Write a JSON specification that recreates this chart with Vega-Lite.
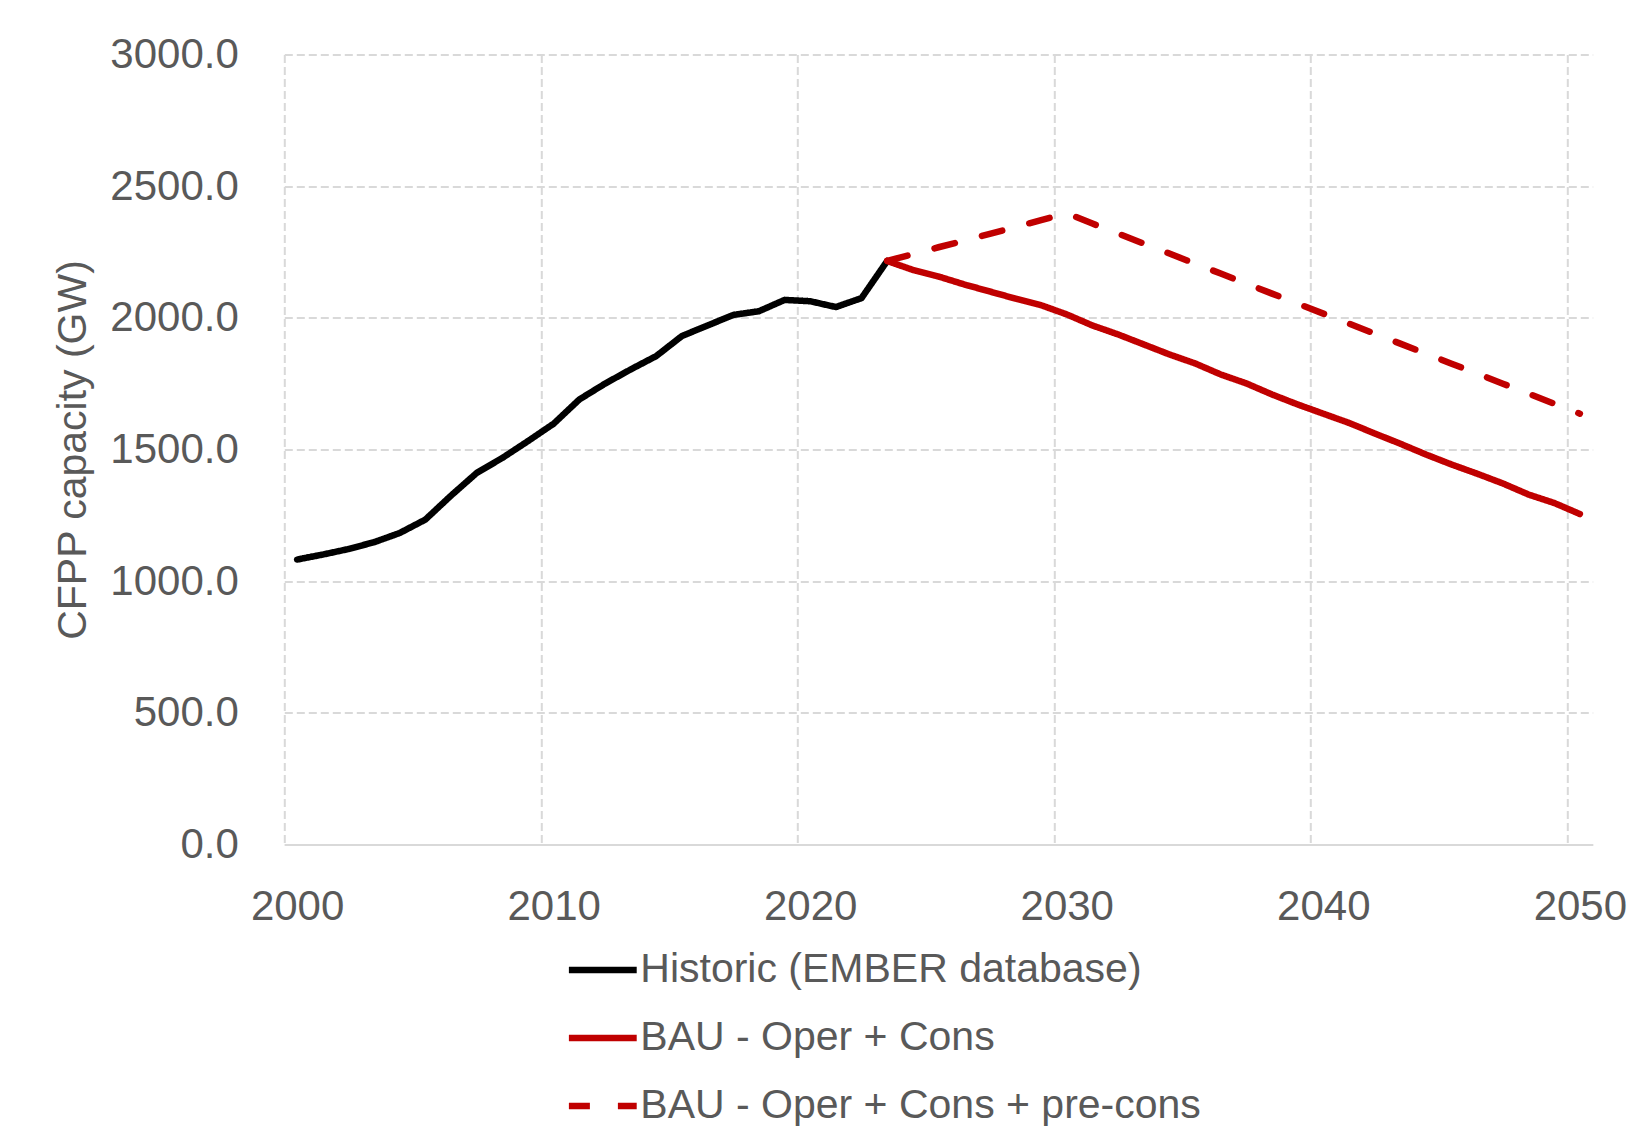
{
  "$schema": "https://vega.github.io/schema/vega-lite/v6.json",
  "autosize": {"type": "none"},
  "width": 1308.4,
  "height": 790,
  "padding": {"left": 284.3, "top": 54.5, "right": 37.3, "bottom": 301.5},
  "background": "white",
  "config": {
    "font": "Liberation Sans",
    "view": {"stroke": null}
  },
  "data": {
    "values": [
      {"year": 2000, "value": 1082, "series": "Historic (EMBER database)"},
      {"year": 2001, "value": 1101, "series": "Historic (EMBER database)"},
      {"year": 2002, "value": 1122, "series": "Historic (EMBER database)"},
      {"year": 2003, "value": 1148, "series": "Historic (EMBER database)"},
      {"year": 2004, "value": 1183, "series": "Historic (EMBER database)"},
      {"year": 2005, "value": 1234, "series": "Historic (EMBER database)"},
      {"year": 2006, "value": 1325, "series": "Historic (EMBER database)"},
      {"year": 2007, "value": 1411, "series": "Historic (EMBER database)"},
      {"year": 2008, "value": 1468, "series": "Historic (EMBER database)"},
      {"year": 2009, "value": 1532, "series": "Historic (EMBER database)"},
      {"year": 2010, "value": 1598, "series": "Historic (EMBER database)"},
      {"year": 2011, "value": 1690, "series": "Historic (EMBER database)"},
      {"year": 2012, "value": 1750, "series": "Historic (EMBER database)"},
      {"year": 2013, "value": 1804, "series": "Historic (EMBER database)"},
      {"year": 2014, "value": 1855, "series": "Historic (EMBER database)"},
      {"year": 2015, "value": 1931, "series": "Historic (EMBER database)"},
      {"year": 2016, "value": 1971, "series": "Historic (EMBER database)"},
      {"year": 2017, "value": 2011, "series": "Historic (EMBER database)"},
      {"year": 2018, "value": 2025, "series": "Historic (EMBER database)"},
      {"year": 2019, "value": 2068, "series": "Historic (EMBER database)"},
      {"year": 2020, "value": 2063, "series": "Historic (EMBER database)"},
      {"year": 2021, "value": 2041, "series": "Historic (EMBER database)"},
      {"year": 2022, "value": 2075, "series": "Historic (EMBER database)"},
      {"year": 2023, "value": 2216, "series": "Historic (EMBER database)"},
      {"year": 2023, "value": 2216, "series": "BAU - Oper + Cons"},
      {"year": 2024, "value": 2182, "series": "BAU - Oper + Cons"},
      {"year": 2025, "value": 2157, "series": "BAU - Oper + Cons"},
      {"year": 2026, "value": 2127, "series": "BAU - Oper + Cons"},
      {"year": 2027, "value": 2100, "series": "BAU - Oper + Cons"},
      {"year": 2028, "value": 2073, "series": "BAU - Oper + Cons"},
      {"year": 2029, "value": 2048, "series": "BAU - Oper + Cons"},
      {"year": 2030, "value": 2013, "series": "BAU - Oper + Cons"},
      {"year": 2031, "value": 1971, "series": "BAU - Oper + Cons"},
      {"year": 2032, "value": 1937, "series": "BAU - Oper + Cons"},
      {"year": 2033, "value": 1899, "series": "BAU - Oper + Cons"},
      {"year": 2034, "value": 1861, "series": "BAU - Oper + Cons"},
      {"year": 2035, "value": 1827, "series": "BAU - Oper + Cons"},
      {"year": 2036, "value": 1785, "series": "BAU - Oper + Cons"},
      {"year": 2037, "value": 1751, "series": "BAU - Oper + Cons"},
      {"year": 2038, "value": 1709, "series": "BAU - Oper + Cons"},
      {"year": 2039, "value": 1671, "series": "BAU - Oper + Cons"},
      {"year": 2040, "value": 1636, "series": "BAU - Oper + Cons"},
      {"year": 2041, "value": 1601, "series": "BAU - Oper + Cons"},
      {"year": 2042, "value": 1561, "series": "BAU - Oper + Cons"},
      {"year": 2043, "value": 1522, "series": "BAU - Oper + Cons"},
      {"year": 2044, "value": 1481, "series": "BAU - Oper + Cons"},
      {"year": 2045, "value": 1443, "series": "BAU - Oper + Cons"},
      {"year": 2046, "value": 1408, "series": "BAU - Oper + Cons"},
      {"year": 2047, "value": 1371, "series": "BAU - Oper + Cons"},
      {"year": 2048, "value": 1329, "series": "BAU - Oper + Cons"},
      {"year": 2049, "value": 1297, "series": "BAU - Oper + Cons"},
      {"year": 2050, "value": 1255, "series": "BAU - Oper + Cons"},
      {"year": 2023, "value": 2216, "series": "BAU - Oper + Cons + pre-cons"},
      {"year": 2024, "value": 2242, "series": "BAU - Oper + Cons + pre-cons"},
      {"year": 2025, "value": 2268, "series": "BAU - Oper + Cons + pre-cons"},
      {"year": 2026, "value": 2293, "series": "BAU - Oper + Cons + pre-cons"},
      {"year": 2027, "value": 2319, "series": "BAU - Oper + Cons + pre-cons"},
      {"year": 2028, "value": 2345, "series": "BAU - Oper + Cons + pre-cons"},
      {"year": 2029, "value": 2371, "series": "BAU - Oper + Cons + pre-cons"},
      {"year": 2030, "value": 2397, "series": "BAU - Oper + Cons + pre-cons"},
      {"year": 2031, "value": 2358, "series": "BAU - Oper + Cons + pre-cons"},
      {"year": 2032, "value": 2320, "series": "BAU - Oper + Cons + pre-cons"},
      {"year": 2033, "value": 2282, "series": "BAU - Oper + Cons + pre-cons"},
      {"year": 2034, "value": 2244, "series": "BAU - Oper + Cons + pre-cons"},
      {"year": 2035, "value": 2206, "series": "BAU - Oper + Cons + pre-cons"},
      {"year": 2036, "value": 2168, "series": "BAU - Oper + Cons + pre-cons"},
      {"year": 2037, "value": 2130, "series": "BAU - Oper + Cons + pre-cons"},
      {"year": 2038, "value": 2092, "series": "BAU - Oper + Cons + pre-cons"},
      {"year": 2039, "value": 2054, "series": "BAU - Oper + Cons + pre-cons"},
      {"year": 2040, "value": 2016, "series": "BAU - Oper + Cons + pre-cons"},
      {"year": 2041, "value": 1978, "series": "BAU - Oper + Cons + pre-cons"},
      {"year": 2042, "value": 1940, "series": "BAU - Oper + Cons + pre-cons"},
      {"year": 2043, "value": 1902, "series": "BAU - Oper + Cons + pre-cons"},
      {"year": 2044, "value": 1864, "series": "BAU - Oper + Cons + pre-cons"},
      {"year": 2045, "value": 1826, "series": "BAU - Oper + Cons + pre-cons"},
      {"year": 2046, "value": 1788, "series": "BAU - Oper + Cons + pre-cons"},
      {"year": 2047, "value": 1750, "series": "BAU - Oper + Cons + pre-cons"},
      {"year": 2048, "value": 1712, "series": "BAU - Oper + Cons + pre-cons"},
      {"year": 2049, "value": 1674, "series": "BAU - Oper + Cons + pre-cons"},
      {"year": 2050, "value": 1636, "series": "BAU - Oper + Cons + pre-cons"}
    ]
  },
  "mark": {"type": "line", "strokeWidth": 6.5, "strokeCap": "round", "strokeJoin": "round"},
  "encoding": {
    "x": {
      "field": "year",
      "type": "quantitative",
      "scale": {"domain": [1999.5, 2050.5], "nice": false, "zero": false},
      "axis": {
        "title": null,
        "values": [1999.5, 2009.5, 2019.5, 2029.5, 2039.5, 2049.5],
        "labelExpr": "format(datum.value + 0.5, 'd')",
        "labelOffset": 12.8,
        "labelFontSize": 42,
        "labelColor": "#595959",
        "labelBaseline": "middle",
        "labelPadding": 62,
        "ticks": false,
        "tickSize": 0,
        "domain": true,
        "domainColor": "#d9d9d9",
        "domainWidth": 2,
        "grid": true,
        "gridColor": "#d9d9d9",
        "gridDash": [8, 4],
        "gridWidth": 2,
        "labelFlush": false,
        "labelOverlap": false
      }
    },
    "y": {
      "field": "value",
      "type": "quantitative",
      "scale": {"domain": [0, 3000], "nice": false},
      "axis": {
        "title": "CFPP capacity (GW)",
        "titleFontSize": 41,
        "titleFontWeight": "normal",
        "titleColor": "#595959",
        "titlePadding": 15,
        "values": [0, 500, 1000, 1500, 2000, 2500, 3000],
        "format": ".1f",
        "labelFontSize": 42,
        "labelColor": "#595959",
        "labelPadding": 46,
        "ticks": false,
        "tickSize": 0,
        "domain": false,
        "grid": true,
        "gridColor": "#d9d9d9",
        "gridDash": [8, 4],
        "gridWidth": 2,
        "labelFlush": false,
        "labelOverlap": false
      }
    },
    "color": {
      "field": "series",
      "type": "nominal",
      "scale": {
        "domain": ["Historic (EMBER database)", "BAU - Oper + Cons", "BAU - Oper + Cons + pre-cons"],
        "range": ["#000000", "#C00000", "#C00000"]
      },
      "legend": {
        "title": null,
        "orient": "none",
        "legendX": 281,
        "legendY": 881.5,
        "direction": "vertical",
        "padding": 0,
        "rowPadding": 0,
        "clipHeight": 68,
        "symbolType": "stroke",
        "symbolSize": 4600,
        "symbolStrokeWidth": 6.5,
        "labelFontSize": 41,
        "labelColor": "#595959",
        "labelOffset": 0,
        "labelLimit": 800
      }
    },
    "strokeDash": {
      "field": "series",
      "type": "nominal",
      "scale": {
        "domain": ["Historic (EMBER database)", "BAU - Oper + Cons", "BAU - Oper + Cons + pre-cons"],
        "range": [[1, 0], [1, 0], [21, 28]]
      },
      "legend": {
        "title": null,
        "orient": "none",
        "legendX": 281,
        "legendY": 881.5,
        "direction": "vertical",
        "padding": 0,
        "rowPadding": 0,
        "clipHeight": 68,
        "symbolType": "stroke",
        "symbolSize": 4600,
        "symbolStrokeWidth": 6.5,
        "labelFontSize": 41,
        "labelColor": "#595959",
        "labelOffset": 0,
        "labelLimit": 800
      }
    }
  }
}
